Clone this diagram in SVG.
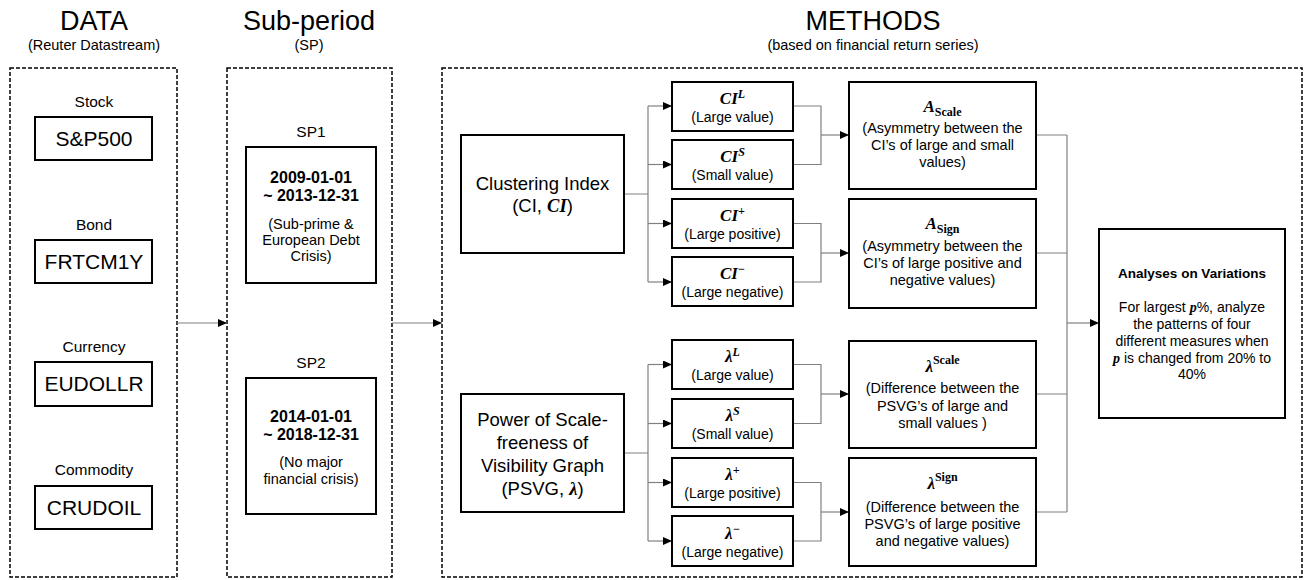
<svg xmlns="http://www.w3.org/2000/svg" width="1308" height="580" viewBox="0 0 1308 580">
<defs>
<marker id="ah" markerUnits="userSpaceOnUse" markerWidth="10" markerHeight="10" refX="9" refY="4" orient="auto">
<path d="M0,0 L9,4 L0,8 Z" fill="#000"/>
</marker>
<style>
text{font-family:"Liberation Sans",Arial,sans-serif;fill:#000;text-anchor:middle}
.h1{font-size:27px}
.h2{font-size:14.5px}
.lab{font-size:15.5px}
.code{font-size:21px}
.bd{font-size:16px;font-weight:bold}
.sm{font-size:14.5px}
.big{font-size:18.5px}
.sub{font-size:14px}
.desc{font-size:14.5px}
.rdesc{font-size:14px}
.m{font-family:"Liberation Serif","Times New Roman",serif;font-weight:bold;font-style:italic}
.mu{font-family:"Liberation Serif","Times New Roman",serif;font-weight:bold;font-style:normal}
.sym{font-size:17px}
.sup{font-size:12px}
.box{fill:#fff;stroke:#000;stroke-width:2}
.dash{fill:none;stroke:#000;stroke-width:1.5;stroke-dasharray:4 2}
.c{fill:none;stroke:#808080;stroke-width:1.2}
.ca{fill:none;stroke:#808080;stroke-width:1.2;marker-end:url(#ah)}
</style>
</defs>
<rect width="1308" height="580" fill="#fff"/>

<g id="headers">
<text class="h1" x="94" y="30">DATA</text>
<text class="h2" x="94" y="50">(Reuter Datastream)</text>
<text class="h1" x="309" y="30">Sub-period</text>
<text class="h2" x="309" y="50">(SP)</text>
<text class="h1" x="873" y="30">METHODS</text>
<text class="h2" x="873" y="50">(based on financial return series)</text>
</g>

<g id="panels">
<rect class="dash" x="10" y="68" width="167" height="509"/>
<rect class="dash" x="227" y="68" width="165" height="509"/>
<rect class="dash" x="442" y="68" width="860" height="509"/>
</g>

<g id="connectors">
<path class="ca" d="M177,323 H227"/>
<path class="ca" d="M392,323 H442"/>
<path class="c" d="M624,194 H648 M648,106 V282"/>
<path class="ca" d="M648,106 H672"/>
<path class="ca" d="M648,164.5 H672"/>
<path class="ca" d="M648,223.5 H672"/>
<path class="ca" d="M648,282 H672"/>
<path class="c" d="M793,106 H821 V164.5 H793"/>
<path class="ca" d="M821,135 H849"/>
<path class="c" d="M793,223.5 H821 V282 H793"/>
<path class="ca" d="M821,253 H849"/>
<path class="c" d="M624,453 H648 M648,364.5 V541"/>
<path class="ca" d="M648,364.5 H672"/>
<path class="ca" d="M648,423.5 H672"/>
<path class="ca" d="M648,482.5 H672"/>
<path class="ca" d="M648,541 H672"/>
<path class="c" d="M793,364.5 H821 V423.5 H793"/>
<path class="ca" d="M821,394 H849"/>
<path class="c" d="M793,482.5 H821 V541 H793"/>
<path class="ca" d="M821,512 H849"/>
<path class="c" d="M1036,135 H1067 M1036,253 H1067 M1036,394 H1067 M1036,512 H1067 M1067,135 V512"/>
<path class="ca" d="M1067,323 H1099"/>
</g>

<g id="stock">
<text class="lab" x="94" y="107">Stock</text>
<rect class="box" x="35" y="117" width="117" height="43"/>
<text class="code" x="94" y="146">S&amp;P500</text>
</g>
<g id="bond">
<text class="lab" x="94" y="230">Bond</text>
<rect class="box" x="35" y="240" width="117" height="43"/>
<text class="code" x="94" y="269">FRTCM1Y</text>
</g>
<g id="currency">
<text class="lab" x="94" y="352">Currency</text>
<rect class="box" x="35" y="362" width="117" height="44"/>
<text class="code" x="94" y="391">EUDOLLR</text>
</g>
<g id="commodity">
<text class="lab" x="94" y="475">Commodity</text>
<rect class="box" x="35" y="486" width="117" height="43"/>
<text class="code" x="94" y="515">CRUDOIL</text>
</g>

<g id="sp1">
<text class="lab" x="311" y="137">SP1</text>
<rect class="box" x="246" y="147" width="130" height="136"/>
<text class="bd" x="311" y="183">2009-01-01</text>
<text class="bd" x="311" y="201">~ 2013-12-31</text>
<text class="sm" x="311" y="229">(Sub-prime &amp;</text>
<text class="sm" x="311" y="245">European Debt</text>
<text class="sm" x="311" y="261">Crisis)</text>
</g>
<g id="sp2">
<text class="lab" x="311" y="368">SP2</text>
<rect class="box" x="246" y="378" width="130" height="136"/>
<text class="bd" x="311" y="422">2014-01-01</text>
<text class="bd" x="311" y="440">~ 2018-12-31</text>
<text class="sm" x="311" y="467">(No major</text>
<text class="sm" x="311" y="484">financial crisis)</text>
</g>

<g id="ci">
<rect class="box" x="461" y="135" width="163" height="118"/>
<text class="big" x="542.5" y="190">Clustering Index</text>
<text class="big" x="542.5" y="212">(CI, <tspan class="m">CI</tspan>)</text>
</g>
<g id="ciL">
<rect class="box" x="672" y="82" width="121" height="49"/>
<text class="sym" x="732.5" y="104"><tspan class="m">CI</tspan><tspan class="m sup" dy="-6">L</tspan></text>
<text class="sub" x="732.5" y="122">(Large value)</text>
</g>
<g id="ciS">
<rect class="box" x="672" y="140" width="121" height="49"/>
<text class="sym" x="732.5" y="162"><tspan class="m">CI</tspan><tspan class="m sup" dy="-6">S</tspan></text>
<text class="sub" x="732.5" y="180">(Small value)</text>
</g>
<g id="ciP">
<rect class="box" x="672" y="199" width="121" height="49"/>
<text class="sym" x="732.5" y="221"><tspan class="m">CI</tspan><tspan class="m sup" dy="-6">+</tspan></text>
<text class="sub" x="732.5" y="239">(Large positive)</text>
</g>
<g id="ciN">
<rect class="box" x="672" y="257" width="121" height="49"/>
<text class="sym" x="732.5" y="279"><tspan class="m">CI</tspan><tspan class="m sup" dy="-6">−</tspan></text>
<text class="sub" x="732.5" y="297">(Large negative)</text>
</g>
<g id="aScale">
<rect class="box" x="849" y="82" width="187" height="107"/>
<text class="sym" x="942.5" y="112"><tspan class="m">A</tspan><tspan class="mu sup" dy="4">Scale</tspan></text>
<text class="desc" x="942.5" y="133">(Asymmetry between the</text>
<text class="desc" x="942.5" y="150">CI’s of large and small</text>
<text class="desc" x="942.5" y="167">values)</text>
</g>
<g id="aSign">
<rect class="box" x="849" y="199" width="187" height="109"/>
<text class="sym" x="942.5" y="229"><tspan class="m">A</tspan><tspan class="mu sup" dy="4">Sign</tspan></text>
<text class="desc" x="942.5" y="251">(Asymmetry between the</text>
<text class="desc" x="942.5" y="268">CI’s of large positive and</text>
<text class="desc" x="942.5" y="285">negative values)</text>
</g>

<g id="psvg">
<rect class="box" x="461" y="394" width="163" height="118"/>
<text class="big" x="542.5" y="426">Power of Scale-</text>
<text class="big" x="542.5" y="449">freeness of</text>
<text class="big" x="542.5" y="472">Visibility Graph</text>
<text class="big" x="542.5" y="495">(PSVG, <tspan class="m">λ</tspan>)</text>
</g>
<g id="lamL">
<rect class="box" x="672" y="340" width="121" height="49"/>
<text class="sym" x="732.5" y="362"><tspan class="m">λ</tspan><tspan class="m sup" dy="-6">L</tspan></text>
<text class="sub" x="732.5" y="380">(Large value)</text>
</g>
<g id="lamS">
<rect class="box" x="672" y="399" width="121" height="49"/>
<text class="sym" x="732.5" y="421"><tspan class="m">λ</tspan><tspan class="m sup" dy="-6">S</tspan></text>
<text class="sub" x="732.5" y="439">(Small value)</text>
</g>
<g id="lamP">
<rect class="box" x="672" y="458" width="121" height="49"/>
<text class="sym" x="732.5" y="480"><tspan class="m">λ</tspan><tspan class="m sup" dy="-6">+</tspan></text>
<text class="sub" x="732.5" y="498">(Large positive)</text>
</g>
<g id="lamN">
<rect class="box" x="672" y="516" width="121" height="50"/>
<text class="sym" x="732.5" y="539"><tspan class="m">λ</tspan><tspan class="m sup" dy="-6">−</tspan></text>
<text class="sub" x="732.5" y="557">(Large negative)</text>
</g>
<g id="lamScale">
<rect class="box" x="849" y="341" width="187" height="107"/>
<text class="sym" x="942.5" y="372"><tspan class="m">λ</tspan><tspan class="mu sup" dy="-8">Scale</tspan></text>
<text class="desc" x="942.5" y="393">(Difference between the</text>
<text class="desc" x="942.5" y="411">PSVG’s of large and</text>
<text class="desc" x="942.5" y="428">small values )</text>
</g>
<g id="lamSign">
<rect class="box" x="849" y="458" width="187" height="108"/>
<text class="sym" x="942.5" y="489"><tspan class="m">λ</tspan><tspan class="mu sup" dy="-8">Sign</tspan></text>
<text class="desc" x="942.5" y="512">(Difference between the</text>
<text class="desc" x="942.5" y="529">PSVG’s of large positive</text>
<text class="desc" x="942.5" y="546">and negative values)</text>
</g>

<g id="analyses">
<rect class="box" x="1099" y="229" width="186" height="189"/>
<text x="1192" y="278" style="font-size:13.5px;font-weight:bold">Analyses on Variations</text>
<text class="rdesc" x="1192" y="312">For largest <tspan class="m">p</tspan>%, analyze</text>
<text class="rdesc" x="1192" y="329">the patterns of four</text>
<text class="rdesc" x="1192" y="346">different measures when</text>
<text class="rdesc" x="1192" y="363"><tspan class="m">p</tspan> is changed from 20% to</text>
<text class="rdesc" x="1192" y="379">40%</text>
</g>
</svg>
